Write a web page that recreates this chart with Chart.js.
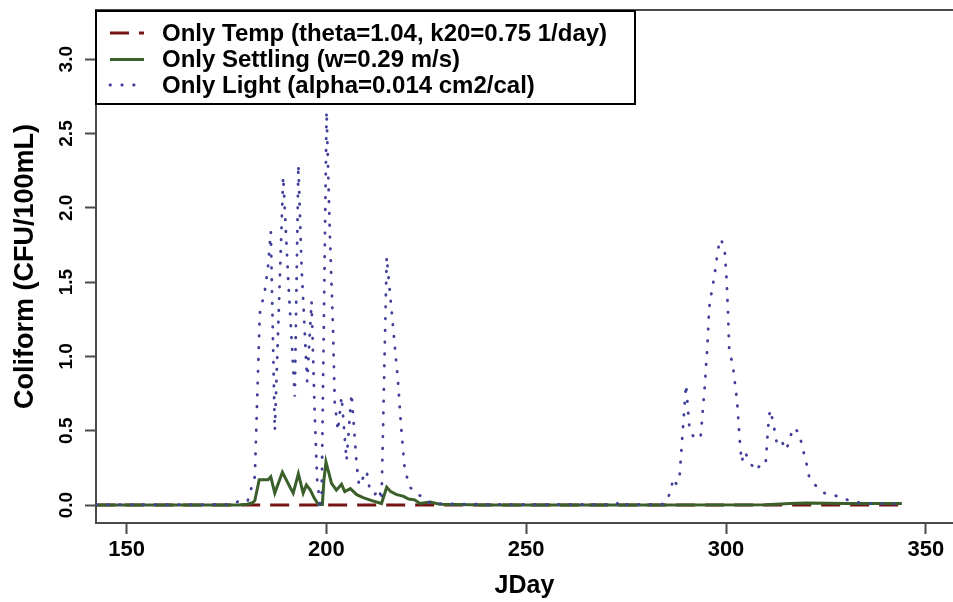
<!DOCTYPE html>
<html>
<head>
<meta charset="utf-8">
<script src="https://cdn.jsdelivr.net/npm/chart.js@4/dist/chart.umd.min.js"></script>
<style>
  html, body { margin: 0; padding: 0; background: #ffffff; }
  #c { display: block; }
</style>
</head>
<body>
<canvas id="c" width="953" height="602"></canvas>
<script>
// ---- data ----
const seriesLabels = [
  'Only Temp (theta=1.04, k20=0.75 1/day)',
  'Only Settling (w=0.29 m/s)',
  'Only Light (alpha=0.014 cm2/cal)'
];

const tempDays = [142.4, 344];
const tempVals = [0, 0];

const settleDays = [142.4, 178, 180.2, 181.5, 182.1, 183.2, 185.4, 186.1, 187.1, 189.0, 190.9, 191.7, 193.0, 194.2, 195.0, 196.0, 196.9, 198.0, 199.0, 199.4, 199.9, 201.3, 202.5, 203.8, 204.6, 206.0, 207.6, 209.2, 211.4, 213.8, 215.1, 216.1, 217.6, 219.2, 220.6, 222.1, 223.4, 225.9, 228.4, 240, 280, 310, 316, 320, 330, 344];
const settleVals = [0, 0, 0.005, 0.015, 0.03, 0.17, 0.17, 0.19, 0.08, 0.22, 0.12, 0.08, 0.21, 0.08, 0.135, 0.1, 0.05, 0.003, 0.003, 0.17, 0.29, 0.145, 0.1, 0.14, 0.09, 0.11, 0.07, 0.05, 0.03, 0.01, 0.12, 0.09, 0.07, 0.06, 0.04, 0.035, 0.01, 0.02, 0.005, 0, 0, 0.002, 0.01, 0.013, 0.011, 0.01];

const lightDays = [142.4, 150, 160, 170, 176.5, 178.35, 179.6, 180.35, 181.3, 182.1, 183.35, 184.6, 185.4, 186.1, 187.1, 189.2, 190.45, 192.1, 193.0, 193.8, 194.6, 195.2, 196.3, 197.1, 197.7, 198.4, 198.8, 200.05, 200.87, 201.7, 202.1, 202.9, 203.8, 205.05, 206.3, 207.55, 208.2, 210.05, 210.9, 212.1, 213.2, 213.8, 215.1, 217.9, 218.8, 219.6, 220.9, 222.9, 224.6, 226.0, 240, 260, 272.5, 273.8, 275, 284, 285.1, 286.2, 286.8, 287.6, 288.4, 290.0, 290.9, 292.4, 293.7, 294.0, 294.7, 295.4, 295.8, 296.2, 297.2, 298.0, 298.6, 298.9, 299.7, 300.1, 300.5, 300.8, 301.2, 301.8, 302.5, 302.8, 303.4, 303.9, 304.7, 305.7, 307.4, 308.6, 309.9, 310.5, 311.0, 311.8, 312.8, 314.1, 315.1, 316.8, 318.2, 320.3, 320.8, 322.5, 324.7, 327.2, 329.7, 332.4, 335.4, 344];
const lightVals = [0.003, 0.003, 0.003, 0.003, 0.005, 0.03, 0.04, 0.03, 0.12, 0.19, 1.29, 1.44, 1.6, 1.84, 0.5, 2.21, 1.52, 0.73, 2.29, 1.6, 1.16, 0.83, 1.37, 0.6, 0.17, 0.01, 0.02, 2.65, 1.83, 1.16, 0.69, 0.5, 0.73, 0.3, 0.75, 0.28, 0.13, 0.23, 0.1, 0.07, 0.11, 0.03, 1.67, 0.84, 0.49, 0.24, 0.12, 0.07, 0.05, 0.01, 0.004, 0.004, 0.005, 0.03, 0.005, 0.005, 0.02, 0.1, 0.18, 0.14, 0.2, 0.81, 0.5, 0.44, 0.47, 0.57, 0.8, 1.1, 1.33, 1.4, 1.56, 1.72, 1.79, 1.78, 1.70, 1.54, 1.3, 1.05, 1.0, 0.92, 0.76, 0.69, 0.45, 0.29, 0.36, 0.3, 0.23, 0.27, 0.27, 0.51, 0.64, 0.56, 0.4, 0.42, 0.37, 0.52, 0.49, 0.26, 0.19, 0.13, 0.08, 0.065, 0.04, 0.02, 0.01, 0.005];

const xTickValues = [150, 200, 250, 300, 350];
const yTickValues = [0, 0.5, 1, 1.5, 2, 2.5, 3];
const xTitle = 'JDay';
const yTitle = 'Coliform (CFU/100mL)';

// ---- chart ----
const FONT = '"Liberation Sans", Arial, Helvetica, sans-serif';
const pts = (xs, ys) => xs.map((x, i) => ({ x: x, y: ys[i] }));

const frameAndLegend = {
  id: 'frameAndLegend',
  afterDatasetsDraw(chart) {
    const ctx = chart.ctx;
    const a = chart.chartArea;
    ctx.save();
    // top frame line (R box)
    ctx.strokeStyle = '#4a4a4a';
    ctx.lineWidth = 2;
    ctx.beginPath();
    ctx.moveTo(a.left - 1, a.top);
    ctx.lineTo(a.right + 5, a.top);
    ctx.stroke();

    // legend box in the top-left corner of the plot
    const bx = a.left, by = a.top + 1, bw = 539, bh = 93;
    ctx.fillStyle = '#ffffff';
    ctx.fillRect(bx, by, bw, bh);
    ctx.strokeStyle = '#000000';
    ctx.lineWidth = 2;
    ctx.strokeRect(bx, by, bw, bh);

    const order = [0, 1, 2];
    const rowY = [by + 22, by + 48.5, by + 74];
    ctx.font = 'bold 24px ' + FONT;
    ctx.textBaseline = 'middle';
    ctx.textAlign = 'left';
    order.forEach((di, r) => {
      const ds = chart.data.datasets[di];
      const y = rowY[r];
      ctx.save();
      ctx.strokeStyle = ds.borderColor;
      ctx.lineWidth = ds.borderWidth;
      ctx.setLineDash(ds.borderDash || []);
      ctx.lineCap = ds.borderCapStyle || 'butt';
      ctx.beginPath();
      ctx.moveTo(bx + 14, y);
      ctx.lineTo(bx + 48, y);
      ctx.stroke();
      ctx.restore();
      ctx.fillStyle = '#000000';
      ctx.fillText(ds.label, bx + 66, y + 1);
    });
    ctx.restore();
  }
};

new Chart(document.getElementById('c'), {
  type: 'line',
  data: {
    datasets: [
      {
        label: seriesLabels[0],
        data: pts(tempDays, tempVals),
        borderColor: '#741414',
        borderWidth: 3,
        borderDash: [19, 10],
        pointRadius: 0,
        fill: false,
        tension: 0,
        order: 3
      },
      {
        label: seriesLabels[1],
        data: pts(settleDays, settleVals),
        borderColor: '#3a5f2a',
        borderWidth: 3,
        pointRadius: 0,
        fill: false,
        tension: 0,
        order: 2
      },
      {
        label: seriesLabels[2],
        data: pts(lightDays, lightVals),
        borderColor: '#40409a',
        borderWidth: 2.8,
        borderDash: [0.5, 11.3],
        borderCapStyle: 'round',
        pointRadius: 0,
        fill: false,
        tension: 0,
        order: 1
      }
    ]
  },
  options: {
    responsive: false,
    animation: false,
    devicePixelRatio: 1,
    layout: { autoPadding: false, padding: { top: 10, right: 0, left: 0, bottom: 0 } },
    plugins: { legend: { display: false }, tooltip: { enabled: false } },
    scales: {
      x: {
        type: 'linear',
        min: 142.36,
        max: 356.8,
        afterBuildTicks: s => { s.ticks = xTickValues.map(v => ({ value: v })); },
        afterFit: s => { s.height = 79; s.paddingLeft = 0; s.paddingRight = 0; },
        ticks: {
          color: '#000',
          font: { family: FONT, size: 22, weight: 'bold' },
          padding: 3,
          maxRotation: 0,
          callback: v => String(v)
        },
        grid: { drawOnChartArea: false, drawTicks: true, tickLength: 11, tickWidth: 2, tickColor: '#4a4a4a' },
        border: { display: true, color: '#4a4a4a', width: 2 },
        title: {
          display: true,
          text: xTitle,
          color: '#000',
          font: { family: FONT, size: 25, weight: 'bold' },
          padding: { top: 0, bottom: 1 }
        }
      },
      y: {
        type: 'linear',
        min: -0.121,
        max: 3.331,
        afterBuildTicks: s => { s.ticks = yTickValues.map(v => ({ value: v })); },
        afterFit: s => { s.width = 96; s.paddingTop = 0; s.paddingBottom = 0; },
        ticks: {
          color: '#000',
          font: { family: FONT, size: 19, weight: 'bold' },
          minRotation: 90,
          maxRotation: 90,
          crossAlign: 'center',
          padding: 5,
          callback: v => Number(v).toFixed(1)
        },
        grid: { drawOnChartArea: false, drawTicks: true, tickLength: 11, tickWidth: 2, tickColor: '#4a4a4a' },
        border: { display: true, color: '#4a4a4a', width: 2 },
        title: {
          display: true,
          text: yTitle,
          color: '#000',
          font: { family: FONT, size: 27, weight: 'bold' },
          padding: { top: 9, bottom: 0 }
        }
      }
    }
  },
  plugins: [frameAndLegend]
});
</script>
</body>
</html>
